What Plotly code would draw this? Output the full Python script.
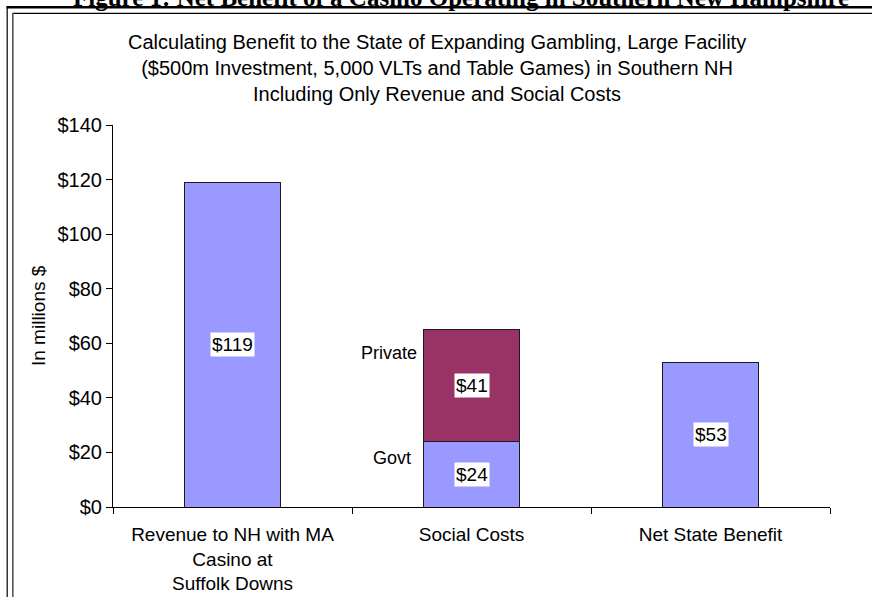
import plotly.graph_objects as go

# Chart data (millions of dollars)
categories = ["Revenue to NH with MA<br>Casino at<br>Suffolk Downs", "Social Costs", "Net State Benefit"]
lower_values = [119, 24, 53]        # revenue / government social cost / net benefit
private_values = [None, 41, None]   # private social cost, stacked on the Social Costs bar
y_ticks = [0, 20, 40, 60, 80, 100, 120, 140]
y_tick_labels = ["$" + str(v) for v in y_ticks]

W, H = 872, 597
L, R, T, B = 113, 830, 125, 507


def px(x):
    return (x - L) / (R - L)


def py(y):
    return (B - y) / (B - T)


FONT = "Liberation Sans, Arial, sans-serif"
BLUE = "#9999FF"
PLUM = "#993366"

fig = go.Figure()
fig.add_trace(go.Bar(
    x=categories, y=lower_values, width=0.4,
    marker=dict(color=BLUE, line=dict(color="#1a1a1a", width=1)),
    hoverinfo="skip", showlegend=False,
))
fig.add_trace(go.Bar(
    x=categories, y=private_values, width=0.4,
    marker=dict(color=PLUM, line=dict(color="#1a1a1a", width=1)),
    hoverinfo="skip", showlegend=False,
))

annotations = []
# value labels in white boxes, centred in each segment
for cat, lo, hi in zip(categories, lower_values, private_values):
    annotations.append(dict(
        x=cat, y=lo / 2, xref="x", yref="y", text="$" + str(lo), showarrow=False,
        font=dict(family=FONT, size=19, color="black"), bgcolor="white", borderpad=1,
    ))
    if hi is not None:
        annotations.append(dict(
            x=cat, y=lo + hi / 2, xref="x", yref="y", text="$" + str(hi), showarrow=False,
            font=dict(family=FONT, size=19, color="black"), bgcolor="white", borderpad=1,
        ))

# segment names beside the stacked bar
annotations.append(dict(x=px(419), y=py(353), xref="paper", yref="paper", text="Private",
                        showarrow=False, xanchor="right", yanchor="middle",
                        font=dict(family=FONT, size=18, color="black")))
annotations.append(dict(x=px(413), y=py(458), xref="paper", yref="paper", text="Govt",
                        showarrow=False, xanchor="right", yanchor="middle",
                        font=dict(family=FONT, size=18, color="black")))

# chart title
annotations.append(dict(
    x=px(437), y=py(68), xref="paper", yref="paper", showarrow=False,
    xanchor="center", yanchor="middle",
    text="Calculating Benefit to the State of Expanding Gambling, Large Facility<br>"
         "($500m Investment, 5,000 VLTs and Table Games) in Southern NH<br>"
         "Including Only Revenue and Social Costs",
    font=dict(family=FONT, size=20, color="black"),
))

# y-axis title
annotations.append(dict(
    x=px(38), y=py(316), xref="paper", yref="paper", showarrow=False, textangle=-90,
    xanchor="center", yanchor="middle", text="In millions $",
    font=dict(family=FONT, size=19, color="black"),
))

# figure caption above the frame (runs off the top edge of the page)
annotations.append(dict(
    x=px(461), y=py(-3), xref="paper", yref="paper", showarrow=False,
    xanchor="center", yanchor="middle",
    text="<b>Figure 1: Net Benefit of a Casino Operating in Southern New Hampshire</b>",
    font=dict(family="Liberation Serif, Times New Roman, serif", size=25, color="black"),
))

shapes = [
    dict(type="line", xref="paper", yref="paper", x0=px(6.5), x1=px(872), y0=py(7.3), y1=py(7.3),
         line=dict(color="black", width=2.5)),
    dict(type="line", xref="paper", yref="paper", x0=px(12.5), x1=px(872), y0=py(13.3), y1=py(13.3),
         line=dict(color="black", width=1.2)),
    dict(type="line", xref="paper", yref="paper", x0=px(7.2), x1=px(7.2), y0=py(6.5), y1=py(597),
         line=dict(color="black", width=1.2)),
    dict(type="line", xref="paper", yref="paper", x0=px(12.8), x1=px(12.8), y0=py(13), y1=py(597),
         line=dict(color="#555555", width=1.6)),
]

fig.update_layout(
    width=W, height=H,
    margin=dict(l=L, r=W - R, t=T, b=H - B, pad=0, autoexpand=False),
    paper_bgcolor="white", plot_bgcolor="white",
    barmode="stack", bargap=0.6,
    annotations=annotations, shapes=shapes,
    font=dict(family=FONT, size=19, color="black"),
)
fig.update_xaxes(
    type="category", range=[-0.5, 2.5], tickson="boundaries", automargin=False,
    showline=True, linecolor="black", linewidth=1,
    ticks="outside", ticklen=6, tickcolor="black", ticklabelstandoff=10,
    tickfont=dict(family=FONT, size=19, color="black"),
    showgrid=False, zeroline=False,
)
fig.update_yaxes(
    range=[0, 140], tickvals=y_ticks, ticktext=y_tick_labels, automargin=False,
    showline=True, linecolor="black", linewidth=1,
    ticks="outside", ticklen=6, tickcolor="black",
    tickfont=dict(family=FONT, size=20, color="black"),
    showgrid=False, zeroline=False,
)

fig.write_html("out.html")
